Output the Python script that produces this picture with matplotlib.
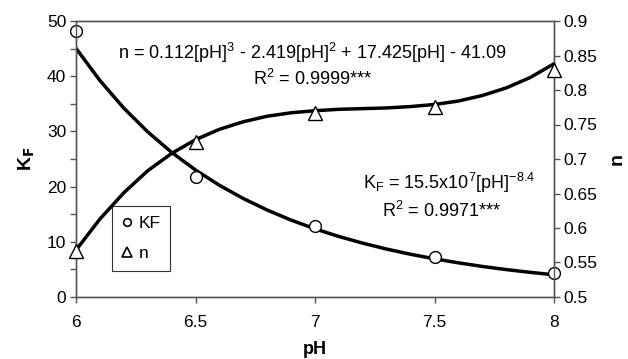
import matplotlib.pyplot as plt
from matplotlib.lines import Line2D

plt.rcParams['font.family'] = ['Liberation Sans', 'DejaVu Sans']
plt.rcParams['mathtext.default'] = 'regular'

# measured points
ph = [6.0, 6.5, 7.0, 7.5, 8.0]
kf = [48.2, 21.7, 12.9, 7.3, 4.4]
n_vals = [0.566, 0.725, 0.766, 0.776, 0.829]

# fitted curves, read at 0.1 pH steps
ph_fit = [6.0, 6.1, 6.2, 6.3, 6.4, 6.5, 6.6, 6.7, 6.8, 6.9, 7.0,
          7.1, 7.2, 7.3, 7.4, 7.5, 7.6, 7.7, 7.8, 7.9, 8.0]
kf_fit = [45.06, 39.22, 34.22, 29.92, 26.21, 23.01, 20.24, 17.84, 15.75, 13.93, 12.35,
          10.96, 9.75, 8.68, 7.74, 6.92, 6.19, 5.54, 4.97, 4.47, 4.02]
n_fit = [0.568, 0.613, 0.651, 0.683, 0.708, 0.728, 0.743, 0.754, 0.762, 0.767, 0.770,
         0.772, 0.773, 0.774, 0.776, 0.779, 0.784, 0.792, 0.803, 0.818, 0.838]

fig = plt.figure(figsize=(6.28, 3.59), dpi=100)
ax = fig.add_axes([76 / 628, 1 - 297 / 359, 478 / 628, 276 / 359])
ax2 = ax.twinx()

ax.plot(ph_fit, kf_fit, color='black', lw=2.5, zorder=2)
ax.plot(ph, kf, 'o', ms=8.5, mfc='white', mec='black', mew=1.0, zorder=3, clip_on=False)
ax2.plot(ph_fit, n_fit, color='black', lw=2.5, zorder=2)
ax2.plot(ph, n_vals, '^', ms=9.5, mfc='white', mec='black', mew=1.0, zorder=3, clip_on=False)

ax.set_xlim(6, 8)
ax.set_ylim(0, 50)
ax2.set_ylim(0.5, 0.9)
ax.set_xticks([6, 6.5, 7, 7.5, 8])
ax.set_xticklabels(['6', '6.5', '7', '7.5', '8'])
ax.set_yticks(range(0, 51, 10))
ax.set_yticks(range(5, 50, 10), minor=True)
ax2.set_yticks([0.5, 0.55, 0.6, 0.65, 0.7, 0.75, 0.8, 0.85, 0.9])
ax2.set_yticklabels(['0.5', '0.55', '0.6', '0.65', '0.7', '0.75', '0.8', '0.85', '0.9'])

gray = '#555555'
for a in (ax, ax2):
    for s in a.spines.values():
        s.set_color(gray)
        s.set_linewidth(1.0)
    a.tick_params(which='both', direction='out', color=gray, length=4, width=1,
                  labelsize=12.5, pad=3)
ax.tick_params(axis='x', pad=9)

ax.set_xlabel('pH', fontsize=13, fontweight='bold', labelpad=8)
ax.set_ylabel(r'K$_\mathbf{F}$', fontsize=14, fontweight='bold', labelpad=8)
ax2.set_ylabel('n', fontsize=14, fontweight='bold', labelpad=8)

ax.text(0.494, 0.885, r'n = 0.112[pH]$^3$ - 2.419[pH]$^2$ + 17.425[pH] - 41.09',
        transform=ax.transAxes, ha='center', va='center', fontsize=13)
ax.text(0.494, 0.79, r'R$^2$ = 0.9999***', transform=ax.transAxes,
        ha='center', va='center', fontsize=13)
ax.text(0.78, 0.415, r'K$_F$ = 15.5x10$^7$[pH]$^{-8.4}$',
        transform=ax.transAxes, ha='center', va='center', fontsize=13)
ax.text(0.765, 0.31, r'R$^2$ = 0.9971***', transform=ax.transAxes,
        ha='center', va='center', fontsize=13)

handles = [Line2D([], [], ls='none', marker='o', ms=5.5, mfc='white', mec='black', mew=1.2),
           Line2D([], [], ls='none', marker='^', ms=6.5, mfc='white', mec='black', mew=1.2)]
leg = ax.legend(handles, ['KF', 'n'], loc='upper left', bbox_to_anchor=(0.075, 0.33),
                borderaxespad=0, frameon=True, fancybox=False, edgecolor='black',
                fontsize=12.5, handlelength=0.6, handletextpad=0.4, borderpad=0.55,
                labelspacing=0.9)
leg.get_frame().set_linewidth(0.8)

fig.savefig('out.png', dpi=100)
